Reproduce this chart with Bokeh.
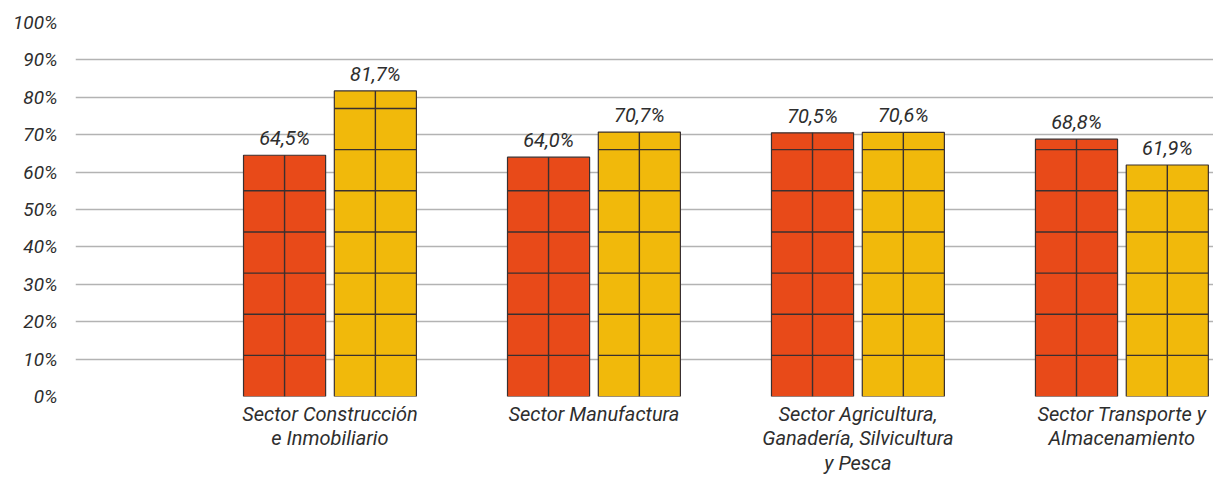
from bokeh.plotting import figure
from bokeh.models import Range1d, ColumnDataSource, FixedTicker
from bokeh.core.properties import value
from bokeh.embed import file_html
from bokeh.resources import INLINE

sectors = ["Sector Construcción\ne Inmobiliario", "Sector Manufactura",
           "Sector Agricultura,\nGanadería, Silvicultura\ny Pesca",
           "Sector Transporte y\nAlmacenamiento"]
serie_a = [64.5, 64.0, 70.5, 68.8]
serie_b = [81.7, 70.7, 70.6, 61.9]
labels_a = ["64,5%", "64,0%", "70,5%", "68,8%"]
labels_b = ["81,7%", "70,7%", "70,6%", "61,9%"]
y_ticks = [0, 10, 20, 30, 40, 50, 60, 70, 80, 90, 100]

RED = "#E84A19"
YEL = "#F1B90B"
EDGE = "#3a3030"
TILE = 11.0
BW = 0.311
OFF = 0.172
FONT = "Roboto"
TXT = "#2e2e2e"

p = figure(width=1213, height=477, output_backend="svg", toolbar_location=None,
           x_range=Range1d(-0.964, 3.347), y_range=Range1d(0, 100),
           min_border_left=75, min_border_right=0, min_border_top=22, min_border_bottom=80)
p.outline_line_color = None
p.background_fill_color = "white"
p.border_fill_color = "white"

p.xgrid.visible = False
p.ygrid.ticker = FixedTicker(ticks=y_ticks)
p.ygrid.grid_line_color = "#b3b3b3"
p.ygrid.grid_line_width = 1.3

xs = list(range(len(sectors)))
for vals, labs, color, sign in [(serie_a, labels_a, RED, -1), (serie_b, labels_b, YEL, 1)]:
    cx = [x + sign * OFF for x in xs]
    src = ColumnDataSource(dict(x=cx, top=vals, lab=labs))
    p.vbar(x="x", top="top", bottom=0, width=BW, source=src, fill_color=color,
           line_color=EDGE, line_width=1.2)
    # tile divider lines
    x0s, x1s, ys = [], [], []
    for c, v in zip(cx, vals):
        k = 1
        while TILE * k < v - 0.3:
            x0s.append(c - BW / 2); x1s.append(c + BW / 2); ys.append(TILE * k)
            k += 1
    p.segment(x0=x0s, y0=ys, x1=x1s, y1=ys, line_color=EDGE, line_width=1.4)
    p.segment(x0=cx, y0=[0] * len(cx), x1=cx, y1=vals, line_color=EDGE, line_width=1.4)
    p.text(x="x", y="top", text="lab", source=src, text_align="center", text_baseline="bottom",
           y_offset=-5, text_font=value(FONT), text_font_style="italic", text_font_size="20px",
           text_color=TXT)

p.yaxis.ticker = FixedTicker(ticks=y_ticks)
p.yaxis.major_label_overrides = {t: f"{t}%" for t in y_ticks}
p.yaxis.axis_line_color = None
p.yaxis.major_tick_line_color = None
p.yaxis.minor_tick_line_color = None
p.yaxis.major_tick_out = 0
p.yaxis.major_tick_in = 0
p.yaxis.major_label_standoff = 18
p.yaxis.major_label_text_font = FONT
p.yaxis.major_label_text_font_style = "italic"
p.yaxis.major_label_text_font_size = "19px"
p.yaxis.major_label_text_color = TXT

p.xaxis.ticker = FixedTicker(ticks=xs)
p.xaxis.major_label_overrides = {i: s for i, s in zip(xs, sectors)}
p.xaxis.axis_line_color = None
p.xaxis.major_tick_line_color = None
p.xaxis.minor_tick_line_color = None
p.xaxis.major_tick_out = 0
p.xaxis.major_tick_in = 0
p.xaxis.major_label_standoff = 5
p.xaxis.major_label_text_font = FONT
p.xaxis.major_label_text_font_style = "italic"
p.xaxis.major_label_text_font_size = "20px"
p.xaxis.major_label_text_color = TXT
p.xaxis.major_label_text_line_height = 1.03

open("out.html", "w").write(file_html(p, INLINE))
